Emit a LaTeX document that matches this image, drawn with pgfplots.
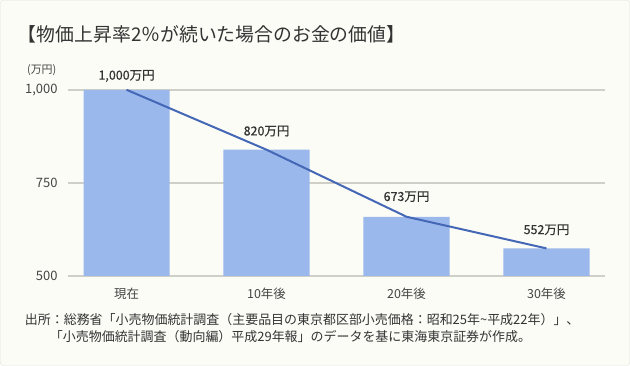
\documentclass[border=0pt]{standalone}
\usepackage{fontspec}
\setmainfont{Noto Sans CJK JP}
\newfontfamily\labelfont[FakeBold=0.6]{Noto Sans CJK JP}
\usepackage{pgfplots}
\pgfplotsset{compat=1.18}
\definecolor{barc}{HTML}{9AB8EC}
\definecolor{linec}{HTML}{4467B6}
\definecolor{gridc}{HTML}{CFCFC8}
\definecolor{bgc}{HTML}{FCFCF7}
\definecolor{bordc}{HTML}{E2E2DC}
\definecolor{txt}{HTML}{333333}
\definecolor{ticktxt}{HTML}{444444}
\begin{document}
\begin{tikzpicture}[x=1bp,y=1bp]
\draw[draw=bordc, fill=bgc, rounded corners=3bp] (0.5,0.5) rectangle (629.5,365.5);
\node[anchor=west, font=\fontsize{18.9}{20}\selectfont, text=txt, inner sep=0] at (18,331) {【物価上昇率2％が続いた場合のお金の価値】};
\node[anchor=center, font=\fontsize{11}{13}\selectfont, text=ticktxt, inner sep=0] at (42,296) {(万円)};
\begin{axis}[
  at={(68bp,90bp)}, anchor=south west,
  scale only axis, width=537bp, height=186bp,
  xmin=-0.42, xmax=3.42, ymin=500, ymax=1000,
  axis line style={draw=none},
  ytick={500,750,1000},
  xtick={0,1,2,3},
  xticklabels={現在,10年後,20年後,30年後},
  ymajorgrids,
  grid style={gridc, line width=1.5bp},
  major tick length=0,
  tick label style={text=ticktxt},
  yticklabel style={font=\fontsize{13}{15}\selectfont, anchor=east, inner sep=0, xshift=-10bp},
  xticklabel style={font=\fontsize{12.5}{14}\selectfont, anchor=base, inner sep=0, yshift=-22.5bp},
  /pgf/number format/assume math mode=true,
  /pgf/number format/1000 sep={,},
  clip mode=individual,
]
\addplot[ybar, bar width=86bp, fill=barc, draw=none] coordinates {(0,1000) (1,839) (2,659) (3,574)};
\addplot[sharp plot, color=linec, line width=2bp, mark=none] coordinates {(0,1000) (1,839) (2,659) (3,574)};
\node[font=\labelfont\fontsize{12.5}{14}\selectfont, text=txt] at (axis cs:0,1037) {1,000万円};
\node[font=\labelfont\fontsize{12.5}{14}\selectfont, text=txt] at (axis cs:1,889) {820万円};
\node[font=\labelfont\fontsize{12.5}{14}\selectfont, text=txt] at (axis cs:2,713) {673万円};
\node[font=\labelfont\fontsize{12.5}{14}\selectfont, text=txt] at (axis cs:3,624) {552万円};
\end{axis}
\node[anchor=west, font=\fontsize{13}{15}\selectfont, text=txt, inner sep=0] at (25,46) {出所：総務省「小売物価統計調査（主要品目の東京都区部小売価格：昭和25年\textasciitilde 平成22年）」、};
\node[anchor=west, font=\fontsize{13}{15}\selectfont, text=txt, inner sep=0] at (50,29) {「小売物価統計調査（動向編）平成29年報」のデータを基に東海東京証券が作成。};
\end{tikzpicture}
\end{document}
